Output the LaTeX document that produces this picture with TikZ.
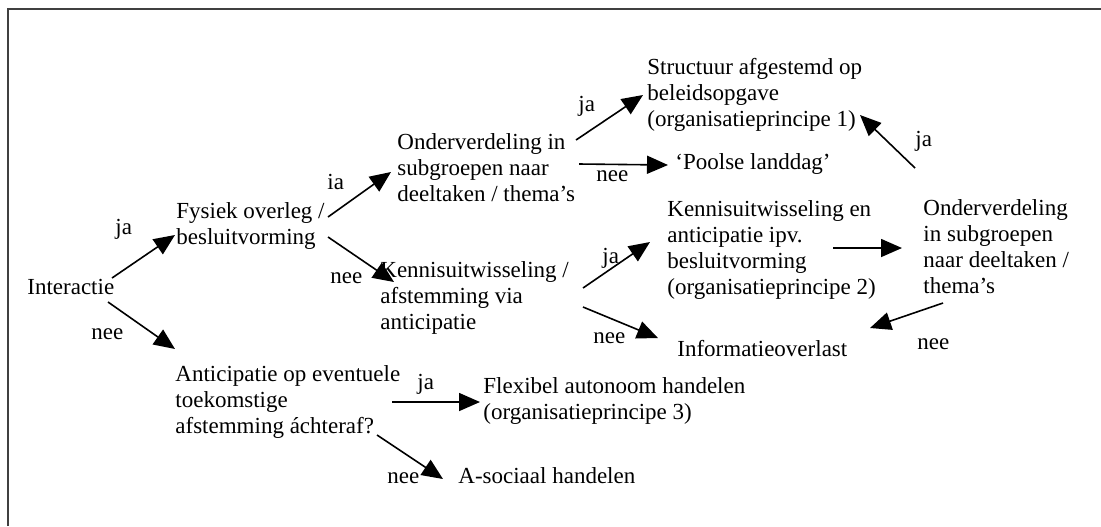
\documentclass[tikz,border=0pt]{standalone}
\usepackage{fontspec}
\setmainfont{Liberation Serif}
\usetikzlibrary{arrows.meta}
\begin{document}
\begin{tikzpicture}[x=0.5pt,y=-0.5pt,
  txt/.style={anchor=north west,inner sep=0pt,align=left,font=\fontsize{11.5}{13}\selectfont,execute at begin node=\strut},
  lbl/.style={txt},
  arr/.style={line width=0.8pt,-{Triangle[length=10.5pt,width=9pt]}},
  frame/.style={line width=1pt,black!75}]
\useasboundingbox (0,0) rectangle (1101,526);
\draw[frame] (7.5,526) -- (7.5,8.5) -- (1101,8.5);
% nodes
\node[txt] (inter) at (27,276) {Interactie};
\node[txt] (fys) at (176,202) {Fysiek overleg /\\besluitvorming};
\node[txt] (ond1) at (397,133) {Onderverdeling in\\subgroepen naar\\deeltaken / thema’s};
\node[txt] (ken1) at (380,261) {Kennisuitwisseling /\\afstemming via\\anticipatie};
\node[txt] (str) at (647,58) {Structuur afgestemd op\\beleidsopgave\\(organisatieprincipe 1)};
\node[txt] (pool) at (675,151) {‘Poolse landdag’};
\node[txt] (ken2) at (667,200) {Kennisuitwisseling en\\anticipatie ipv.\\besluitvorming\\(organisatieprincipe 2)};
\node[txt] (info) at (677,338) {Informatieoverlast};
\node[txt] (ond2) at (923,199) {Onderverdeling\\in subgroepen\\naar deeltaken /\\thema’s};
\node[txt] (ant) at (175,365) {Anticipatie op eventuele\\toekomstige\\afstemming áchteraf?};
\node[txt] (flex) at (483,377) {Flexibel autonoom handelen\\(organisatieprincipe 3)};
\node[txt] (asoc) at (458,465) {A-sociaal handelen};
% labels
\node[lbl] (l1) at (115,216) {ja};
\node[lbl] (l2) at (91,321) {nee};
\node[lbl] (l3) at (327,171) {ia};
\node[lbl] (l4) at (330,265) {nee};
\node[lbl] (l5) at (578,93) {ja};
\node[lbl] (l6) at (596,163) {nee};
\node[lbl] (l7) at (602,245) {ja};
\node[lbl] (l8) at (593,325) {nee};
\node[lbl] (l9) at (915,128) {ja};
\node[lbl] (l10) at (917,331) {nee};
\node[lbl] (l11) at (417,371) {ja};
\node[lbl] (l12) at (387,465) {nee};
% connector end points
\coordinate (a1s) at (112,278);  \coordinate (a1e) at (175,235);
\coordinate (a2s) at (108,302);  \coordinate (a2e) at (175,349);
\coordinate (a3s) at (328,217);  \coordinate (a3e) at (391,172);
\coordinate (a4s) at (328,237);  \coordinate (a4e) at (394,282);
\coordinate (a5s) at (576,140);  \coordinate (a5e) at (643,95);
\coordinate (a6s) at (579,164);  \coordinate (a6e) at (668,165);
\coordinate (a7s) at (583,288);  \coordinate (a7e) at (650,242);
\coordinate (a8s) at (583,307);  \coordinate (a8e) at (658,338);
\coordinate (a9s) at (833,248);  \coordinate (a9e) at (902,248);
\coordinate (a10s) at (915,168); \coordinate (a10e) at (860,115);
\coordinate (a11s) at (943,303); \coordinate (a11e) at (870,328);
\coordinate (a12s) at (392,402); \coordinate (a12e) at (480,402);
\coordinate (a13s) at (377,435); \coordinate (a13e) at (443,479);
\foreach \i in {1,...,13} {\draw[arr] (a\i s) -- (a\i e);}
\end{tikzpicture}
\end{document}
